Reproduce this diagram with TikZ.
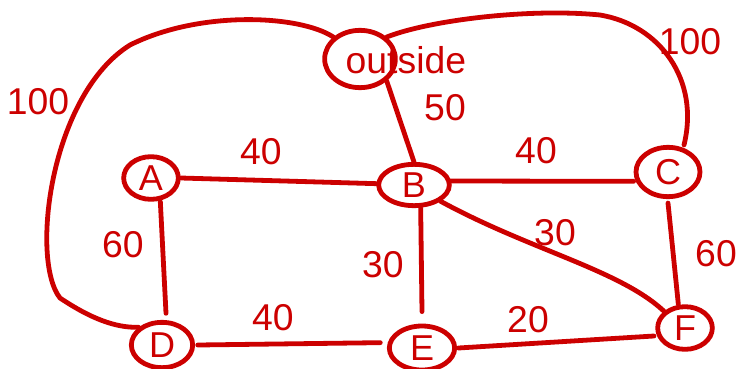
\documentclass[tikz,border=0pt]{standalone}
\usepackage{fontspec}
\setmainfont{Liberation Sans}
\usetikzlibrary{shapes.geometric}
\definecolor{ink}{HTML}{CC0000}
\tikzset{
  edge/.style={line width=3.6pt, draw=ink, line cap=round},
  vtx/.style={ellipse, draw=ink, line width=3.6pt, text=ink, inner sep=0pt, font=\fontsize{27}{27}\selectfont},
  wlab/.style={text=ink, font=\fontsize{28}{28}\selectfont}
}
\begin{document}
\begin{tikzpicture}[x=0.75pt,y=-0.75pt]
\useasboundingbox (0,0) rectangle (742,368);
% nodes
\node[vtx, minimum width=53pt, minimum height=43pt] (out) at (360,59) {};
\node[wlab, anchor=west] (outlab) at (341,60) {outside};
\node[vtx, minimum width=41pt, minimum height=32pt] (A) at (151,178) {A};
\node[vtx, minimum width=53pt, minimum height=31pt] (B) at (414,185) {B};
\node[vtx, minimum width=48pt, minimum height=37pt] (C) at (668,172) {C};
\node[vtx, minimum width=46pt, minimum height=34pt] (D) at (162,345) {D};
\node[vtx, minimum width=49pt, minimum height=33pt] (E) at (422,348) {E};
\node[vtx, minimum width=41pt, minimum height=32pt] (F) at (685,328) {F};
% edges
\draw[edge] (A.east) -- ([yshift=1pt]B.west);
\draw[edge] ([xshift=7pt]A.south) -- ([xshift=3pt,yshift=5pt]D.north);
\draw[edge] ([xshift=2pt]D.east) -- ([xshift=-5pt,yshift=4pt]E.west);
\draw[edge] ([xshift=5pt]B.south) -- ([yshift=9pt]E.north);
\draw[edge] ([xshift=1pt]E.east) -- ([xshift=-1pt,yshift=-6pt]F.west);
\draw[edge] ([xshift=-2pt,yshift=3pt]B.east) -- ([yshift=-7pt]C.west);
\draw[edge] ([yshift=-3pt]C.south) -- ([xshift=-5pt]F.north);
\draw[edge] (B.south east) .. controls (530,250) and (620,270) .. (F.north west);
\draw[edge] (out.south east) -- (B.north);
\draw[edge] (out.north east) .. controls (430,20) and (530,8) .. (600,15)
      .. controls (660,25) and (700,80) .. ([xshift=12pt]C.north);
\draw[edge] (out.north west) .. controls (300,15) and (200,10) .. (130,45)
      .. controls (50,95) and (30,260) .. (60,298) .. controls (90,318) and (115,328) .. (D.north west);
% labels
\node[wlab] (l1) at (261,152) {40};
\node[wlab] (l2) at (123,245) {60};
\node[wlab] (l3) at (273,318) {40};
\node[wlab] (l4) at (383,265) {30};
\node[wlab] (l5) at (528,320) {20};
\node[wlab] (l6) at (555,233) {30};
\node[wlab] (l7) at (536,151) {40};
\node[wlab] (l8) at (716,254) {60};
\node[wlab] (l9) at (445,108) {50};
\node[wlab] (l10) at (690,42) {100};
\node[wlab] (l11) at (38,102) {100};
\end{tikzpicture}
\end{document}
